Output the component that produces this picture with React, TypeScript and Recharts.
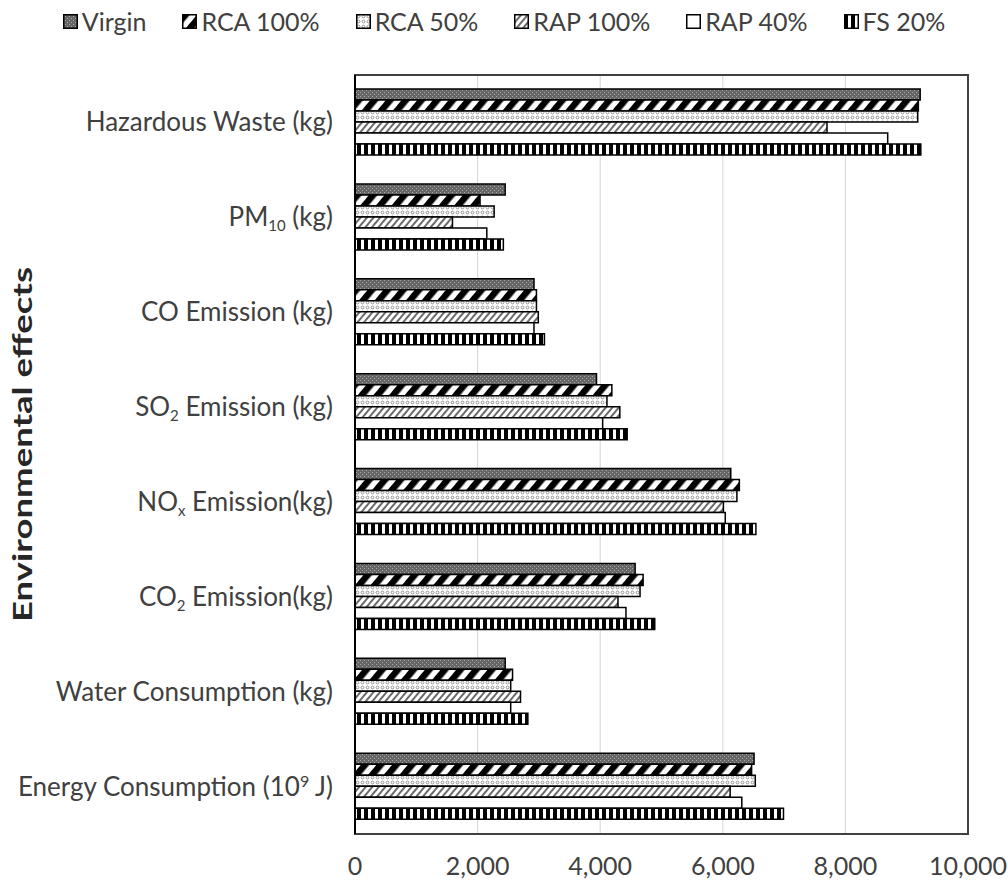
import React from 'react';
import { BarChart, Bar, XAxis, YAxis, CartesianGrid, ReferenceArea } from 'recharts';

// categories top to bottom; _{..} = subscript, ^{..} = superscript
const categories = [
  'Hazardous Waste (kg)',
  'PM_{10} (kg)',
  'CO Emission (kg)',
  'SO_{2} Emission (kg)',
  'NO_{x} Emission(kg)',
  'CO_{2} Emission(kg)',
  'Water Consumption (kg)',
  'Energy Consumption (10^{9} J)',
];

const virgin = [9220, 2450, 2920, 3940, 6130, 4570, 2450, 6510];
const rca100 = [9190, 2040, 2960, 4190, 6270, 4700, 2570, 6470];
const rca50 = [9180, 2270, 2960, 4110, 6230, 4650, 2540, 6530];
const rap100 = [7700, 1590, 2990, 4320, 6010, 4290, 2700, 6120];
const rap40 = [8690, 2150, 2920, 4040, 6040, 4420, 2540, 6310];
const fs20 = [9230, 2420, 3090, 4440, 6540, 4890, 2820, 6990];

const seriesNames = ['Virgin', 'RCA 100%', 'RCA 50%', 'RAP 100%', 'RAP 40%', 'FS 20%'];
const seriesKeys = ['virgin', 'rca100', 'rca50', 'rap100', 'rap40', 'fs20'];
const seriesValues = [virgin, rca100, rca50, rap100, rap40, fs20];
const xTicks = [0, 2000, 4000, 6000, 8000, 10000];

const data = categories.map((name, i) => {
  const row: any = { name };
  seriesKeys.forEach((k, j) => {
    row[k] = seriesValues[j][i];
  });
  return row;
});

const FONT = 'Lato, "Open Sans", sans-serif';
const TEXT = '#404040';

const Patterns = () => (
  <svg width={0} height={0} style={{ position: 'absolute' }}>
    <defs>
      <pattern id="p-virgin" width={4} height={4} patternUnits="userSpaceOnUse">
        <rect width={4} height={4} fill="#666" />
        <rect x={0} y={0} width={1} height={1} fill="#a8a8a8" />
        <rect x={2} y={2} width={1} height={1} fill="#a8a8a8" />
      </pattern>
      <pattern id="p-rca100" width={12} height={12} patternUnits="userSpaceOnUse" patternTransform="rotate(40)">
        <rect width={12} height={12} fill="#fff" />
        <rect width={6.5} height={12} fill="#000" />
      </pattern>
      <pattern id="p-rca50" width={5} height={5} patternUnits="userSpaceOnUse">
        <rect width={5} height={5} fill="#fff" />
        <circle cx={2.5} cy={2.5} r={1.4} fill="none" stroke="#8a8a8a" strokeWidth={0.9} />
      </pattern>
      <pattern id="p-rap100" width={5} height={5} patternUnits="userSpaceOnUse" patternTransform="rotate(40)">
        <rect width={5} height={5} fill="#fff" />
        <rect width={2} height={5} fill="#6a6a6a" />
      </pattern>
      <pattern id="p-fs20" width={7} height={10} patternUnits="userSpaceOnUse">
        <rect width={7} height={10} fill="#fff" />
        <rect width={4} height={10} fill="#000" />
      </pattern>
    </defs>
  </svg>
);

const fills = ['url(#p-virgin)', 'url(#p-rca100)', 'url(#p-rca50)', 'url(#p-rap100)', '#ffffff', 'url(#p-fs20)'];

const RichTick = (props: any) => {
  const { x, y, payload } = props;
  const pieces = String(payload.value).split(/(_\{[^}]*\}|\^\{[^}]*\})/).filter((s) => s !== '');
  let offset = 0;
  return (
    <text x={x} y={y + 9} textAnchor="end" fontFamily={FONT} fontSize={26} fill={TEXT}>
      {pieces.map((p, i) => {
        let target = 0;
        let text = p;
        let size: number | undefined;
        if (p.startsWith('_{')) {
          target = 5;
          text = p.slice(2, -1);
          size = 15;
        } else if (p.startsWith('^{')) {
          target = -9;
          text = p.slice(2, -1);
          size = 16;
        }
        const dy = target - offset;
        offset = target;
        return (
          <tspan key={i} dy={dy} fontSize={size}>
            {text}
          </tspan>
        );
      })}
    </text>
  );
};

const YTitle = (props: any) => {
  const vb = props.viewBox || {};
  const cx = 22;
  const cy = vb.y + vb.height / 2 - 10;
  return (
    <text
      x={cx}
      y={cy}
      transform={`rotate(-90 ${cx} ${cy})`}
      textAnchor="middle"
      dominantBaseline="central"
      fontFamily={FONT}
      fontWeight={700}
      fontSize={26}
      fill="#262626"
      textLength={355}
      lengthAdjust="spacingAndGlyphs"
    >
      Environmental effects
    </text>
  );
};

const LegendBar = () => (
  <div
    style={{
      position: 'absolute',
      top: 6,
      left: 0,
      width: 1008,
      display: 'flex',
      justifyContent: 'center',
      gap: 36,
      fontFamily: FONT,
      fontSize: 25,
      color: TEXT,
    }}
  >
    {seriesNames.map((n, i) => (
      <div key={n} style={{ display: 'flex', alignItems: 'center', gap: 4 }}>
        <svg width={15} height={15}>
          <rect x={0.75} y={0.75} width={13.5} height={13.5} fill={fills[i]} stroke="#000" strokeWidth={1.5} />
        </svg>
        <span>{n}</span>
      </div>
    ))}
  </div>
);

export default function App() {
  return (
    <div style={{ position: 'relative', width: 1008, height: 885, background: '#fff' }}>
      <style>{`body { margin: 0; }`}</style>
      <Patterns />
      <LegendBar />
      <BarChart
        width={1008}
        height={885}
        data={data}
        layout="vertical"
        margin={{ top: 75, right: 40, bottom: 0, left: 0 }}
        barGap={0}
        barSize={11}
      >
        <CartesianGrid horizontal={false} stroke="#d4d4d4" strokeWidth={1} />
        <XAxis
          type="number"
          domain={[0, 10000]}
          ticks={xTicks}
          height={51}
          tickSize={0}
          tickMargin={23}
          tickFormatter={(v: number) => v.toLocaleString('en-US')}
          tick={{ fontFamily: FONT, fontSize: 25, fill: TEXT }}
          axisLine={{ stroke: '#404040', strokeWidth: 2 }}
        />
        <YAxis
          type="category"
          dataKey="name"
          width={355}
          tickSize={0}
          tickMargin={22}
          tick={<RichTick />}
          axisLine={{ stroke: '#000', strokeWidth: 2 }}
          label={<YTitle />}
        />
        <ReferenceArea x1={0} x2={10000} fill="none" stroke="#404040" strokeWidth={2} ifOverflow="visible" />
        {seriesKeys.map((k, i) => (
          <Bar
            key={k}
            dataKey={k}
            name={seriesNames[i]}
            fill={fills[i]}
            stroke="#000"
            strokeWidth={1.5}
            isAnimationActive={false}
          />
        ))}
      </BarChart>
    </div>
  );
}
